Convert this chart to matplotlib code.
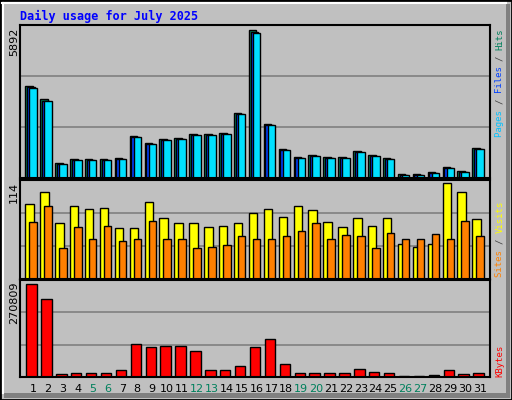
import matplotlib
matplotlib.use("Agg")
import matplotlib.pyplot as plt
from matplotlib.patches import Rectangle
import numpy as np

W, H = 512, 400
days = list(range(1, 32))
weekend = [5, 6, 12, 13, 19, 20, 26, 27]

hits = [3667, 3118, 581, 741, 741, 741, 782, 1663, 1383, 1543, 1583, 1743, 1743, 1784,
        2585, 5892, 2144, 1142, 822, 902, 822, 822, 1062, 902, 782, 140, 140, 220, 421, 261, 1182]
files = [h * 0.985 for h in hits]
pages = [h * 0.975 for h in hits]
visits = [89, 103, 66, 87, 83, 84, 61, 61, 92, 72, 67, 67, 62, 63, 67, 78,
          83, 74, 87, 82, 68, 62, 73, 63, 72, 42, 38, 42, 114, 104, 71]
sites = [68, 87, 37, 62, 48, 63, 45, 47, 69, 47, 47, 37, 38, 41, 51, 47,
         47, 51, 57, 67, 47, 52, 51, 37, 55, 47, 47, 53, 48, 69, 51]
kbytes = [270809, 226300, 9900, 12850, 12850, 12850, 21700, 95900, 87000, 89900, 89900,
          75100, 21700, 21700, 30600, 87000, 110700, 36600, 12850, 12850, 12850, 12850,
          24700, 15800, 12850, 3000, 3000, 5900, 21700, 9900, 12850]

BG = "#C0C0C0"
fig = plt.figure(figsize=(W / 100, H / 100), dpi=100)
fig.patch.set_facecolor(BG)

# 3D frame around the image
frame = fig.add_axes([0, 0, 1, 1])
frame.set_xlim(0, W)
frame.set_ylim(H, 0)
frame.axis("off")
frame.add_patch(Rectangle((0, 0), W, H, facecolor=BG, edgecolor="black", lw=2))
frame.add_patch(Rectangle((506, 4), 4, 394, facecolor="#808080", lw=0))
frame.add_patch(Rectangle((4, 393), 506, 5, facecolor="#808080", lw=0))
frame.plot([2, 506], [3, 3], color="white", lw=1.5)
frame.plot([3, 3], [3, 393], color="white", lw=1.5)

mono = "DejaVu Sans Mono"
frame.text(20, 16, "Daily usage for July 2025", color="#0000FF", fontsize=8.5,
           fontweight="bold", family=mono, va="center")

px_day = 14.9
x0, x1 = 20, 490
xlim = (1 - (33 - x0) / px_day, 31 + (x1 - 480) / px_day)


def panel(top, bottom):
    ax = fig.add_axes([x0 / W, 1 - bottom / H, (x1 - x0) / W, (bottom - top) / H])
    ax.set_facecolor(BG)
    ax.set_xlim(*xlim)
    ax.set_xticks([])
    ax.set_yticks([])
    for s in ax.spines.values():
        s.set_linewidth(1.5)
    return ax


def grid(ax, ymax):
    for f in (1 / 3, 2 / 3):
        ax.axhline(ymax * f, color="#808080", lw=1.2, zorder=0)


d = np.array(days)
w = 7.5 / px_day

ax1 = panel(25, 178)
ymax1 = 5892 * 151.5 / 147
ax1.set_ylim(0, ymax1)
grid(ax1, ymax1)
ax1.bar(d - 7.7 / px_day, hits, width=w, align="edge", color="#00805C", edgecolor="black", lw=1)
ax1.bar(d - 6.0 / px_day, files, width=w, align="edge", color="#0040FF", edgecolor="black", lw=1)
ax1.bar(d - 3.7 / px_day, pages, width=w, align="edge", color="#00E0FF", edgecolor="black", lw=1)

ax2 = panel(180, 279)
ymax2 = 114 * 95 / 92
ax2.set_ylim(0, ymax2)
grid(ax2, ymax2)
ax2.bar(d - 7.7 / px_day, visits, width=8.4 / px_day, align="edge", color="#FFFF00", edgecolor="black", lw=1)
ax2.bar(d - 3.7 / px_day, sites, width=w, align="edge", color="#FF8000", edgecolor="black", lw=1)

ax3 = panel(280, 377)
ymax3 = 270809 * 95.5 / 91.5
ax3.set_ylim(0, ymax3)
grid(ax3, ymax3)
ax3.bar(d - 6.7 / px_day, kbytes, width=10.4 / px_day, align="edge", color="#FF0000", edgecolor="black", lw=1)

# left max labels
for y, s in ((28, "5892"), (182, "114"), (282, "270809")):
    frame.text(14, y, s, rotation=90, fontsize=8, family="DejaVu Sans", va="top", ha="center")

# right legend labels, stacked bottom-up
CH = 5.45


def stack(ybot, parts):
    y = ybot
    for s, c in parts:
        frame.text(500, y, s, rotation=90, color=c, fontsize=6.5, family=mono,
                   va="bottom", ha="center")
        y -= len(s) * CH

stack(137, [("Pages ", "#00C0FF"), ("/ ", "#404040"), ("Files ", "#0040FF"),
            ("/ ", "#404040"), ("Hits", "#00805C")])
stack(277, [("Sites ", "#FF8000"), ("/ ", "#404040"), ("Visits", "#FFFF00")])
stack(377, [("KBytes", "#FF0000")])

for day in days:
    xp = 33 + (day - 1) * px_day
    frame.text(xp, 389, str(day), ha="center", va="center", fontsize=8, family="DejaVu Sans",
               color="#00805C" if day in weekend else "black")

fig.savefig("out.png", dpi=100, facecolor=BG)
